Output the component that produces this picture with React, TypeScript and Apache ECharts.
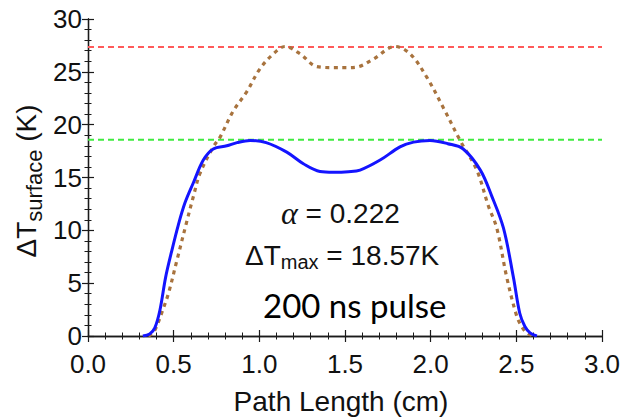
import React, { useEffect, useRef } from "react";
import * as echarts from "echarts";

// Surface temperature rise along the path (cm, K)
const blueX = [0.32, 0.36, 0.39, 0.42, 0.453, 0.488, 0.527, 0.566, 0.615, 0.673, 0.731, 0.81, 0.87, 0.946, 1.04, 1.16, 1.257, 1.354, 1.432, 1.52, 1.588, 1.705, 1.821, 1.9, 1.996, 2.1, 2.19, 2.29, 2.356, 2.425, 2.483, 2.52, 2.55, 2.58, 2.62];
const blueY = [0, 0.2, 0.77, 2.46, 5.55, 8.0, 10.5, 12.6, 14.5, 16.65, 17.7, 18.0, 18.3, 18.5, 18.3, 17.4, 16.3, 15.57, 15.5, 15.55, 15.7, 16.65, 17.9, 18.35, 18.5, 18.2, 17.7, 15.7, 13.26, 10.2, 5.55, 2.15, 0.9, 0.3, 0];

const brownX = [0.352, 0.38, 0.401, 0.435, 0.469, 0.518, 0.576, 0.615, 0.654, 0.731, 0.77, 0.848, 0.926, 1.004, 1.082, 1.15, 1.238, 1.335, 1.432, 1.5, 1.568, 1.665, 1.792, 1.88, 1.977, 2.074, 2.172, 2.269, 2.337, 2.386, 2.444, 2.503, 2.535, 2.561, 2.6];
const brownY = [0, 0.3, 0.92, 2.4, 4.0, 7.1, 10.8, 13.2, 15.4, 17.9, 18.8, 21.3, 23.1, 25.3, 26.7, 27.4, 26.7, 25.5, 25.4, 25.4, 25.45, 26.2, 27.4, 26.7, 24.5, 21.6, 18.5, 15.7, 12.3, 10.2, 5.55, 1.85, 0.8, 0.3, 0];

const peakRef = 27.35;
const maxRef = 18.57;
const alpha = "0.222";
const xRange = [0, 3];
const yRange = [0, 30];

const zip = (xs: number[], ys: number[]) => xs.map((x, i) => [x, ys[i]]);

const SANS = "'Liberation Sans', Arial, sans-serif";
const AXIS_COLOR = "#1a1a1a";

export default function App() {
  const ref = useRef<HTMLDivElement>(null);

  useEffect(() => {
    if (!ref.current) return;
    const chart = echarts.init(ref.current, null, { renderer: "svg" });

    const frameAxis = {
      axisLine: { show: true, lineStyle: { color: AXIS_COLOR, width: 1.3 } },
      axisTick: { show: true, inside: true, length: 6, lineStyle: { color: AXIS_COLOR, width: 1.2 } },
      minorTick: { show: true, splitNumber: 5, length: 3.5, lineStyle: { color: AXIS_COLOR, width: 1 } },
      splitLine: { show: false },
      minorSplitLine: { show: false },
    };

    chart.setOption({
      animation: false,
      backgroundColor: "#ffffff",
      grid: { left: 88, right: 23, top: 19, bottom: 77, containLabel: false },
      xAxis: [
        {
          type: "value",
          min: xRange[0],
          max: xRange[1],
          interval: 0.5,
          position: "bottom",
          ...frameAxis,
          axisLabel: {
            color: "#111",
            fontFamily: SANS,
            fontSize: 26,
            margin: 15,
            formatter: (v: number) => v.toFixed(1),
          },
          name: "Path Length (cm)",
          nameLocation: "middle",
          nameGap: 51,
          nameTextStyle: { color: "#111", fontFamily: SANS, fontSize: 28, padding: [0, 8, 0, 0] },
        },
        {
          type: "value",
          min: xRange[0],
          max: xRange[1],
          interval: 0.5,
          position: "top",
          ...frameAxis,
          axisLabel: { show: false },
        },
      ],
      yAxis: [
        {
          type: "value",
          min: yRange[0],
          max: yRange[1],
          interval: 5,
          position: "left",
          ...frameAxis,
          axisLabel: { color: "#111", fontFamily: SANS, fontSize: 26, margin: 6 },
        },
        {
          type: "value",
          min: yRange[0],
          max: yRange[1],
          interval: 5,
          position: "right",
          ...frameAxis,
          axisLabel: { show: false },
        },
      ],
      series: [
        {
          type: "line",
          data: [[xRange[0], peakRef], [xRange[1], peakRef]],
          showSymbol: false,
          silent: true,
          lineStyle: { color: "#ff5a5a", width: 2, type: [6, 4] },
        },
        {
          type: "line",
          data: [[xRange[0], maxRef], [xRange[1], maxRef]],
          showSymbol: false,
          silent: true,
          lineStyle: { color: "#3fea3f", width: 2, type: [6, 4] },
        },
        {
          type: "line",
          data: zip(brownX, brownY),
          showSymbol: false,
          smooth: 0.35,
          silent: true,
          lineStyle: { color: "#a8733e", width: 3.2, type: [4, 4.5] },
        },
        {
          type: "line",
          data: zip(blueX, blueY),
          showSymbol: false,
          smooth: 0.35,
          silent: true,
          lineStyle: { color: "#1414ff", width: 3 },
        },
      ],
      graphic: [
        {
          type: "text",
          x: 26,
          y: 181,
          rotation: Math.PI / 2,
          style: {
            text: "{d|ΔT}{s|surface}{d| (K)}",
            align: "center",
            verticalAlign: "middle",
            rich: {
              d: { fontFamily: SANS, fontSize: 28, fill: "#111" },
              s: { fontFamily: SANS, fontSize: 22, fill: "#111", padding: [16, 0, 0, 0] },
            },
          },
        },
        {
          type: "text",
          x: 281,
          y: 213,
          style: {
            text: "{a|α}{b| = " + alpha + "}",
            verticalAlign: "middle",
            rich: {
              a: { fontFamily: "'Liberation Serif', 'Times New Roman', serif", fontStyle: "italic", fontSize: 32, fill: "#111" },
              b: { fontFamily: SANS, fontSize: 28, fill: "#111" },
            },
          },
        },
        {
          type: "text",
          x: 245,
          y: 255,
          style: {
            text: "{d|ΔT}{s|max}{d| = " + maxRef.toFixed(2) + "K}",
            verticalAlign: "middle",
            rich: {
              d: { fontFamily: SANS, fontSize: 28, fill: "#111" },
              s: { fontFamily: SANS, fontSize: 20, fill: "#111", padding: [14, 0, 0, 0] },
            },
          },
        },
        {
          type: "text",
          x: 263,
          y: 305,
          style: {
            text: "200 ns pulse",
            verticalAlign: "middle",
            fontFamily: "Lato, 'Open Sans', sans-serif",
            fontSize: 33,
            fill: "#000",
          },
        },
      ],
    });

    return () => chart.dispose();
  }, []);

  return <div ref={ref} style={{ width: 625, height: 420, position: "absolute", left: 0, top: 0 }} />;
}
